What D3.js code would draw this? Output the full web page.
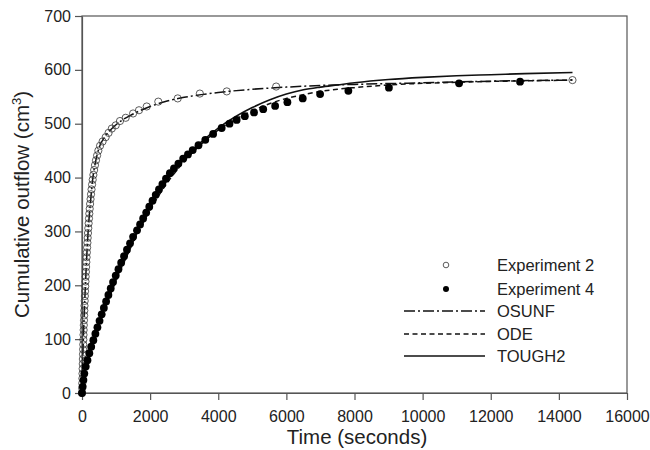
<!DOCTYPE html>
<html>
<head>
<meta charset="utf-8">
<script src="https://cdn.jsdelivr.net/npm/d3@7/dist/d3.min.js"></script>
<style>
  body { margin: 0; background: #fff; }
  text { font-family: "Liberation Sans", Arial, sans-serif; fill: #222; }
</style>
</head>
<body>
<svg id="chart" width="650" height="450"></svg>
<script>
// ---- data ----
const xTicks = [0, 2000, 4000, 6000, 8000, 10000, 12000, 14000, 16000];
const yTicks = [0, 100, 200, 300, 400, 500, 600, 700];

// Experiment 2 (open circles)
const exp2T = [0,4,7,11,14,18,22,25,29,32,36,40,44,48,53,58,63,68,73,79,84,90,96,102,108,115,121,128,135,143,151,159,167,176,185,195,205,215,226,238,251,265,280,296,314,334,356,381,410,443,480,530,605,695,780,875,990,1115,1283,1500,1673,1900,2240,2810,3460,4250,5700,14400];
const exp2V = [0,9,18,27,36,45,54,63,72,81,90,99,108,117,126,135,144,153,162,171,180,189,198,207,216,225,234,243,252,261,270,279,288,297,306,315,324,333,342,351,360,369,378,387,396,405,414,423,432,441,450,459,467,475,483,491,497,505,511,519,525,532,541,547,556,560,569,581];

// Experiment 4 (filled circles)
const exp4T = [0,20,42,68,110,160,215,270,333,393,453,515,578,642,708,775,843,912,990,1070,1150,1235,1320,1410,1500,1615,1705,1795,1885,1975,2070,2165,2260,2360,2465,2580,2700,2830,2970,3110,3250,3420,3620,3850,4100,4330,4540,4780,5050,5320,5670,6030,6480,6990,7820,9010,11070,12860];
const exp4V = [0,12,24,36,49,61,74,86,98,110,122,134,146,158,170,182,194,206,218,230,242,254,266,278,290,302,313,324,335,346,357,368,378,388,398,408,417,426,435,443,451,460,470,481,492,500,507,514,521,527,533,540,547,555,561,567,575,578];

// OSUNF model (dash-dot)
const osunfT = [0,20,40,70,100,140,180,250,320,400,500,700,1000,1500,2000,2500,3000,3500,4000,5000,6000,7000,8000,10000,12000,14400];
const osunfV = [0,55,100,155,200,255,300,355,400,430,455,478,498,518,532,542,549,554,558,564,568,571,573,576,579,581];

// ODE model (dashed)
const odeT = [0,50,100,200,300,500,800,1200,1600,2000,2500,3000,3500,4000,4500,5000,5500,6000,6500,7000,7500,8000,9000,10000,11000,12000,13000,14400];
const odeV = [0,28,45,70,90,128,178,238,292,340,390,430,462,488,508,524,537,547,554,560,564,567,572,575,577,578.5,579.5,581];

// TOUGH2 model (solid)
const toughT = [0,50,100,200,300,500,800,1200,1600,2000,2500,3000,3500,4000,4500,5000,5500,6000,6500,7000,7500,8000,9000,10000,11000,12000,13000,14400];
const toughV = [0,30,47,72,92,130,180,240,295,345,395,435,466,492,513,530,544,555,563,568,572,576,582,586,589,591,593,595];

const legendLabels = ["Experiment 2", "Experiment 4", "OSUNF", "ODE", "TOUGH2"];

// ---- chart ----
const svg = d3.select("#chart");
const m = { left: 82, right: 627, top: 16, bottom: 393 };
const x = d3.scaleLinear().domain([0, 16000]).range([m.left, m.right]);
const y = d3.scaleLinear().domain([0, 700]).range([m.bottom, m.top]);
const axisColor = "#555";

const zip = (T, V) => T.map((t, i) => ({ t, v: V[i] }));
const line = d3.line().x(d => x(d.t)).y(d => y(d.v)).curve(d3.curveMonotoneX);

// frame
svg.append("rect").attr("x", m.left).attr("y", m.top)
  .attr("width", m.right - m.left).attr("height", m.bottom - m.top)
  .attr("fill", "none").attr("stroke", axisColor).attr("stroke-width", 1.2);

// axes
const xAxis = svg.append("g").attr("transform", `translate(0,${m.bottom})`)
  .call(d3.axisBottom(x).tickValues(xTicks).tickFormat(d3.format("d")).tickSize(7).tickSizeOuter(0));
const yAxis = svg.append("g").attr("transform", `translate(${m.left},0)`)
  .call(d3.axisLeft(y).tickValues(yTicks).tickFormat(d3.format("d")).tickSize(7).tickSizeOuter(0));
[xAxis, yAxis].forEach(g => {
  g.select(".domain").attr("stroke", axisColor).attr("stroke-width", 1.2);
  g.selectAll(".tick line").attr("stroke", axisColor).attr("stroke-width", 1.2);
  g.selectAll(".tick text").style("font-size", "16px").attr("fill", "#222")
    .style("font-family", '"Liberation Sans", Arial, sans-serif');
});
xAxis.selectAll(".tick text").attr("dy", "1.2em");
yAxis.selectAll(".tick text").attr("x", -11);

// axis titles
svg.append("text").attr("x", 357).attr("y", 444)
  .attr("text-anchor", "middle").style("font-size", "20.5px").text("Time (seconds)");
const yt = svg.append("text").attr("transform", `translate(29,${(m.top + m.bottom) / 2}) rotate(-90)`)
  .attr("text-anchor", "middle").style("font-size", "20.5px");
yt.append("tspan").text("Cumulative outflow (cm");
yt.append("tspan").attr("dy", "-8").style("font-size", "13px").text("3");
yt.append("tspan").attr("dy", "8").text(")");

// model lines
const styles = {
  osunf: "11,3,2,3",
  ode: "5,3.5",
  tough: null
};
svg.append("path").datum(zip(osunfT, osunfV)).attr("d", line)
  .attr("fill", "none").attr("stroke", "#111").attr("stroke-width", 1.5).attr("stroke-dasharray", styles.osunf);
svg.append("path").datum(zip(odeT, odeV)).attr("d", line)
  .attr("fill", "none").attr("stroke", "#111").attr("stroke-width", 1.5).attr("stroke-dasharray", styles.ode);
svg.append("path").datum(zip(toughT, toughV)).attr("d", line)
  .attr("fill", "none").attr("stroke", "#111").attr("stroke-width", 1.6);

// points
svg.append("g").selectAll("circle").data(zip(exp2T, exp2V)).join("circle")
  .attr("cx", d => x(d.t)).attr("cy", d => y(d.v)).attr("r", 3.6)
  .attr("fill", "none").attr("stroke", "#333").attr("stroke-width", 0.8);
svg.append("g").selectAll("circle").data(zip(exp4T, exp4V)).join("circle")
  .attr("cx", d => x(d.t)).attr("cy", d => y(d.v)).attr("r", 3.9)
  .attr("fill", "#000");

// legend
const lg = svg.append("g");
const ly = [265, 289, 311, 334, 356];
lg.append("circle").attr("cx", 446).attr("cy", ly[0]).attr("r", 2.8)
  .attr("fill", "none").attr("stroke", "#333").attr("stroke-width", 0.8);
lg.append("circle").attr("cx", 446).attr("cy", ly[1]).attr("r", 3)
  .attr("fill", "#000");
[styles.osunf, styles.ode, styles.tough].forEach((dash, i) => {
  lg.append("line").attr("x1", 404).attr("x2", 485).attr("y1", ly[i + 2]).attr("y2", ly[i + 2])
    .attr("stroke", "#111").attr("stroke-width", 1.5).attr("stroke-dasharray", dash);
});
legendLabels.forEach((t, i) => {
  lg.append("text").attr("x", 497).attr("y", ly[i]).attr("dy", "0.36em")
    .style("font-size", "16.5px").text(t);
});
</script>
</body>
</html>
